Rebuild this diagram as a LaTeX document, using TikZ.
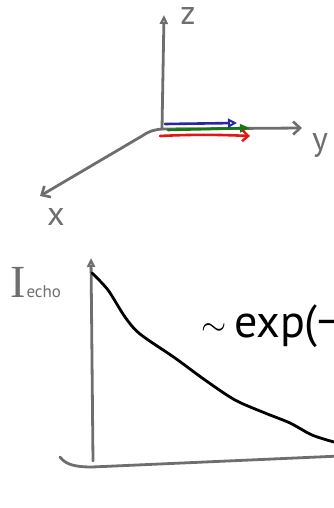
\documentclass[tikz,border=0pt]{standalone}
\usepackage{fontspec}
\setmainfont{PT Sans}
\newfontfamily\serI{Liberation Serif}
\usetikzlibrary{arrows.meta}
\definecolor{pen}{RGB}{110,110,110}
\definecolor{bluepen}{RGB}{40,40,160}
\definecolor{greenpen}{RGB}{20,120,20}
\definecolor{redpen}{RGB}{230,20,20}
\tikzset{
  axis/.style={draw=pen, line width=2.8pt, line cap=round, line join=round},
  vec/.style={line width=2.6pt, line cap=round},
  lbl/.style={text=pen, inner sep=0pt, font=\fontsize{34}{34}\selectfont},
  openhead/.style={-{Straight Barb[length=7pt,width=13pt,line width=2.6pt]}},
  tri/.style={-{Triangle[open,length=9pt,width=8pt,line width=2.2pt]}},
}
\begin{document}
\begin{tikzpicture}[x=1pt,y=-1pt]
\useasboundingbox (0,0) rectangle (334,508);
\clip (0,0) rectangle (334,508);
% 3D axes
\coordinate (o) at (162,129);
\coordinate (zt) at (164,15);
\coordinate (yt) at (302,128);
\coordinate (xb) at (142,136);
\coordinate (xt) at (40,196);
\draw[axis,tri] (o) -- (zt);
\draw[axis,openhead] (o) -- (yt);
\draw[axis,openhead] (o) .. controls (152,130) and (148,132) .. (xb) -- (xt);
\node[lbl,anchor=base] (zl) at (188,25) {z};
\node[lbl,anchor=base] (yl) at (320,150) {y};
\node[lbl,anchor=base] (xl) at (56,225) {x};
% vectors
\coordinate (b0) at (165,124); \coordinate (b1) at (237,123);
\coordinate (g0) at (168,130); \coordinate (g1) at (250,128);
\coordinate (r0) at (160,136); \coordinate (r1) at (250,136);
\draw[vec,draw=greenpen,-{Triangle[length=10pt,width=8pt]}] (g0) -- (g1);
\draw[vec,draw=bluepen,-{Triangle[open,length=9pt,width=9pt,line width=2pt]}] (b0) -- (b1);
\draw[vec,draw=redpen,-{Straight Barb[length=6pt,width=11pt,line width=2.4pt]}] (r0) .. controls (200,134) and (225,135) .. (r1);
% plot axes
\coordinate (vb) at (93,461);
\coordinate (vt) at (91,258);
\coordinate (h0) at (60,457);
\coordinate (hm) at (92,467);
\coordinate (h1) at (340,456);
\draw[axis,tri] (vb) -- (vt);
\draw[axis] (h0) .. controls (66,465) and (76,467) .. (hm) -- (h1);
\node[text=pen, inner sep=0pt, anchor=base west] (ie) at (10,297)
  {\serI\fontsize{46}{46}\selectfont I\fontsize{17}{17}\selectfont\sffamily\rmfamily\kern1pt echo};
% decay curve
\draw[line width=2.8pt, line cap=round, line join=round] plot[smooth, tension=0.5] coordinates
  {(92,273) (108,290) (125,317) (140,334) (175,358) (205,380) (235,400) (265,413) (290,423) (312,435) (334,442)};
\node[inner sep=0pt, anchor=base west] (ex) at (201,337)
  {\fontsize{46}{46}\selectfont\raisebox{2pt}{\scalebox{1.3}{$\sim$}}\,exp(−};
\end{tikzpicture}
\end{document}
